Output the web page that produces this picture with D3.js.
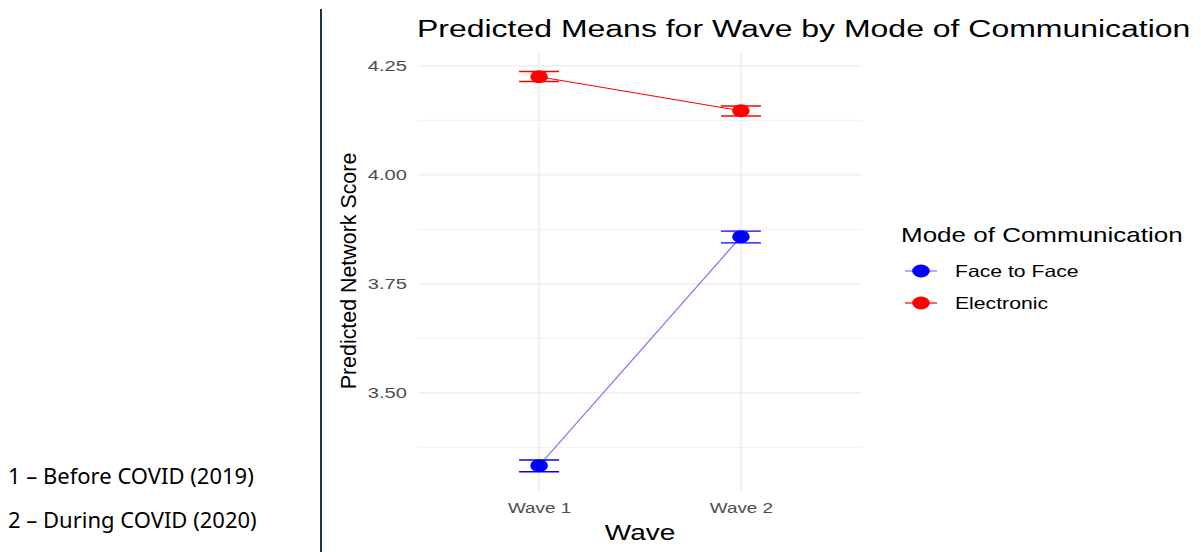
<!DOCTYPE html>
<html>
<head>
<meta charset="utf-8">
<script src="https://cdn.jsdelivr.net/npm/d3@7"></script>
<style>
  body { margin: 0; background: #fff; }
  svg { display: block; }
</style>
</head>
<body>
<div id="chart"></div>
<script>
// data
const waves = ["Wave 1", "Wave 2"];
const modes = ["Face to Face", "Electronic"];
const modeColors = ["#0000ff", "#ff0000"];
const faceMean = [3.333, 3.858];
const faceLow = [3.319, 3.844];
const faceHigh = [3.346, 3.871];
const elecMean = [4.225, 4.147];
const elecLow = [4.214, 4.135];
const elecHigh = [4.237, 4.158];
const yTicks = [3.50, 3.75, 4.00, 4.25];
const yMinor = [3.375, 3.625, 3.875, 4.125];
const waveNotes = ["1 \u2013 Before COVID (2019)", "2 \u2013 During COVID (2020)"];

const width = 1201, height = 552;
const panel = { left: 418, right: 862, top: 51, bottom: 491 };
const font = "'Liberation Sans', Arial, sans-serif";
// the source plot was pasted in stretched sideways
const sx = 1.3;

const series = [
    { name: modes[0], color: modeColors[0], mean: faceMean, low: faceLow, high: faceHigh, lineOpacity: 0.55 },
    { name: modes[1], color: modeColors[1], mean: elecMean, low: elecLow, high: elecHigh, lineOpacity: 1 }
];

var svg = d3.select("#chart")
    .append("svg")
    .attr("width", width)
    .attr("height", height);

function stretchedText(parent, x, y, size, str, anchor) {
    return parent.append("text")
        .attr("transform", `translate(${x},${y}) scale(${sx},1)`)
        .attr("text-anchor", anchor || "start")
        .style("font-family", font)
        .style("font-size", size + "px")
        .style("fill", "#000")
        .text(str);
}

// discrete x scale with ggplot style 0.6 expansion
var x = d3.scaleLinear()
    .domain([0.4, waves.length + 0.6])
    .range([panel.left, panel.right]);

var y = d3.scaleLinear()
    .domain([3.275, 4.284])
    .range([panel.bottom, panel.top]);

// left side notes + divider
svg.append("line")
    .attr("x1", 321).attr("x2", 321)
    .attr("y1", 9).attr("y2", height)
    .attr("stroke", "#1f3349")
    .attr("stroke-width", 2);

svg.selectAll(".note")
    .data(waveNotes)
    .enter().append("text")
    .attr("class", "note")
    .attr("x", 8)
    .attr("y", (d, i) => 484 + i * 44)
    .style("font-family", "'Noto Sans', sans-serif")
    .style("font-size", "22px")
    .style("fill", "#000")
    .text(d => d);

// grid
var grid = svg.append("g");
grid.selectAll(".minor")
    .data(yMinor)
    .enter().append("line")
    .attr("x1", panel.left).attr("x2", panel.right)
    .attr("y1", d => y(d)).attr("y2", d => y(d))
    .attr("stroke", "#f0f0f0").attr("stroke-width", 1);

grid.selectAll(".major")
    .data(yTicks)
    .enter().append("line")
    .attr("x1", panel.left).attr("x2", panel.right)
    .attr("y1", d => y(d)).attr("y2", d => y(d))
    .attr("stroke", "#ebebeb").attr("stroke-width", 1.4);

grid.selectAll(".vmajor")
    .data(waves)
    .enter().append("line")
    .attr("x1", (d, i) => x(i + 1)).attr("x2", (d, i) => x(i + 1))
    .attr("y1", panel.top).attr("y2", panel.bottom)
    .attr("stroke", "#ebebeb").attr("stroke-width", 1.4);

// axes (no domain, no ticks, like theme_minimal)
svg.append("g")
    .attr("transform", `translate(${panel.left - 11},0)`)
    .call(d3.axisLeft(y).tickValues(yTicks).tickFormat(d3.format(".2f")).tickSize(0).tickPadding(0))
    .call(g => g.select(".domain").remove())
    .call(g => g.selectAll("text")
        .attr("x", 0)
        .attr("transform", `scale(${sx},1)`)
        .style("font-family", font)
        .style("font-size", "15.5px")
        .style("fill", "#4d4d4d"));

svg.append("g")
    .attr("transform", `translate(0,${panel.bottom})`)
    .call(d3.axisBottom(x).tickValues([1, 2]).tickFormat(d => waves[d - 1]).tickSize(0).tickPadding(12))
    .call(g => g.select(".domain").remove())
    .call(g => g.selectAll("text")
        .attr("transform", `scale(${sx},1)`)
        .style("font-family", font)
        .style("font-size", "14.5px")
        .style("fill", "#4d4d4d"));

// titles
stretchedText(svg, 417, 37, 24.6, "Predicted Means for Wave by Mode of Communication");
stretchedText(svg, (panel.left + panel.right) / 2, 540, 21.5, "Wave", "middle");

svg.append("text")
    .attr("transform", `translate(356,${(panel.top + panel.bottom) / 2}) rotate(-90)`)
    .attr("text-anchor", "middle")
    .style("font-family", font)
    .style("font-size", "21.4px")
    .style("fill", "#000")
    .text("Predicted Network Score");

// series
var line = d3.line()
    .x((d, i) => x(i + 1))
    .y(d => y(d));

var layer = svg.selectAll("g.layer")
    .data(series)
    .enter().append("g")
    .attr("class", "layer");

layer.append("path")
    .attr("d", d => line(d.mean))
    .attr("fill", "none")
    .attr("stroke", d => d.color)
    .attr("stroke-opacity", d => d.lineOpacity)
    .attr("stroke-width", 1.2);

layer.each(function (s) {
    var g = d3.select(this);
    s.mean.forEach(function (m, i) {
        var cx = x(i + 1);
        [s.low[i], s.high[i]].forEach(function (v) {
            g.append("line")
                .attr("x1", cx - 20).attr("x2", cx + 20)
                .attr("y1", y(v)).attr("y2", y(v))
                .attr("stroke", s.color).attr("stroke-width", 1.4);
        });
        g.append("line")
            .attr("x1", cx).attr("x2", cx)
            .attr("y1", y(s.low[i])).attr("y2", y(s.high[i]))
            .attr("stroke", s.color).attr("stroke-width", 1.4);
        g.append("ellipse")
            .attr("cx", cx).attr("cy", y(m))
            .attr("rx", 8.8).attr("ry", 6.5)
            .attr("fill", s.color);
    });
});

// legend
var legend = svg.append("g");
stretchedText(legend, 901, 242, 20, "Mode of Communication");

var key = legend.selectAll(".key")
    .data(series)
    .enter().append("g")
    .attr("class", "key")
    .attr("transform", (d, i) => `translate(0,${271 + i * 32})`);

key.append("line")
    .attr("x1", 905).attr("x2", 937)
    .attr("stroke", d => d.color)
    .attr("stroke-opacity", d => d.lineOpacity)
    .attr("stroke-width", 1.2);
key.append("ellipse")
    .attr("cx", 921).attr("rx", 8.8).attr("ry", 6.5)
    .attr("fill", d => d.color);
key.each(function (d) {
    stretchedText(d3.select(this), 955, 6, 16.3, d.name);
});
</script>
</body>
</html>
